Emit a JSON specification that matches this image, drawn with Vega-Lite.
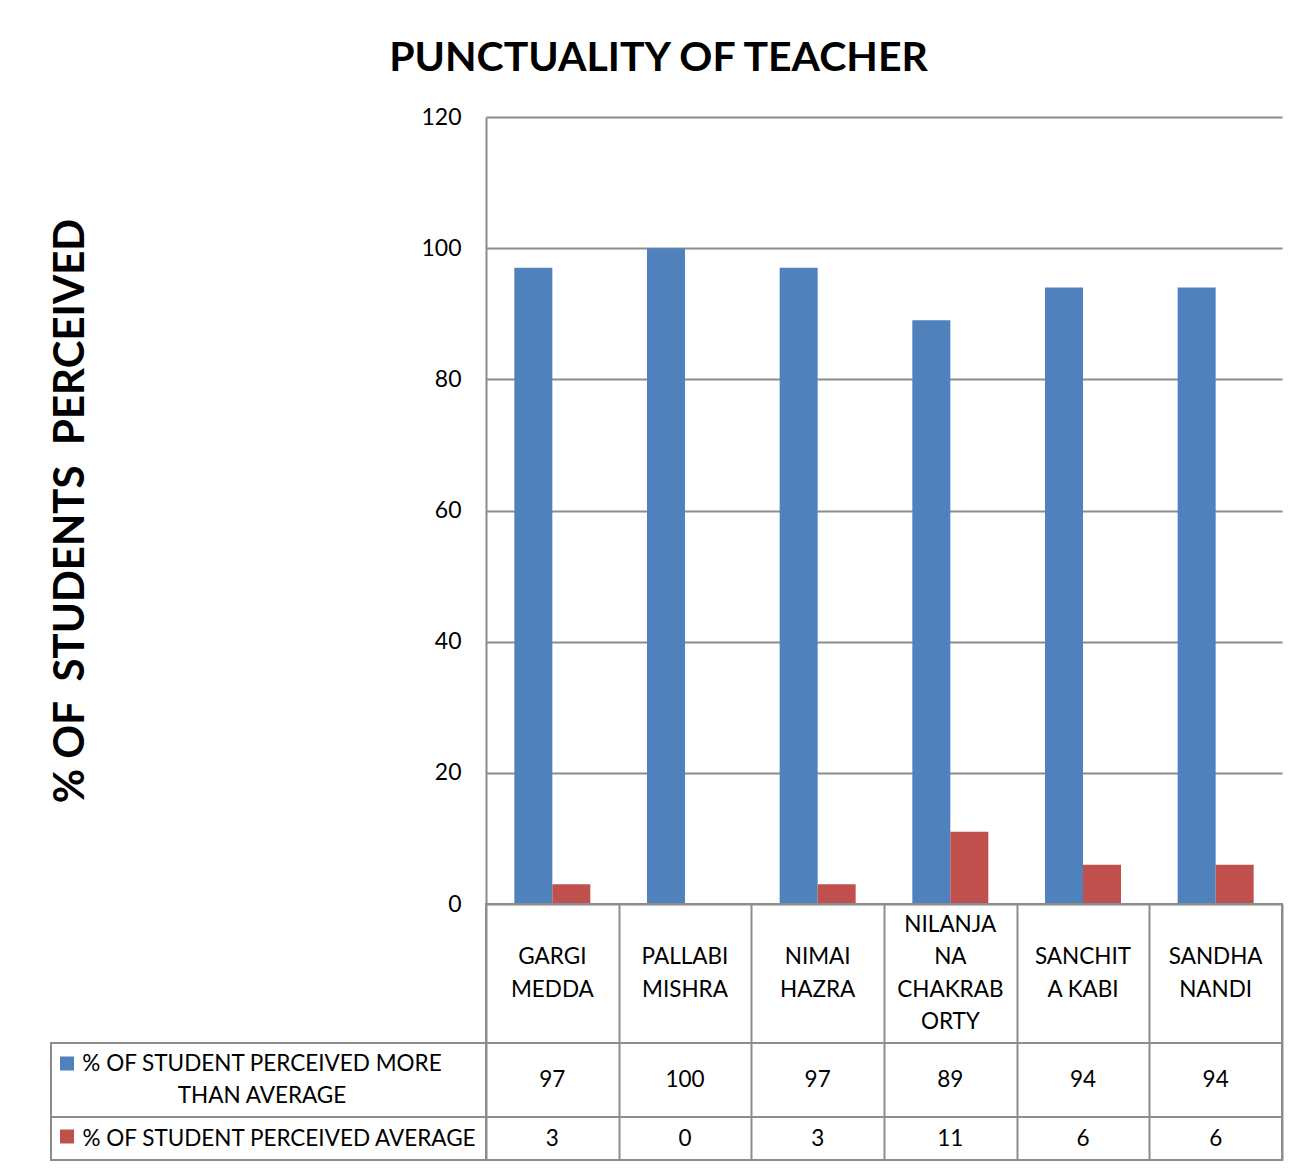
{
  "$schema": "https://vega.github.io/schema/vega-lite/v6.json",
  "padding": {"left": 49, "top": 38, "right": 20, "bottom": 5},
  "background": "white",
  "title": {"text": "PUNCTUALITY OF TEACHER", "font": "Lato", "fontSize": 41, "fontWeight": "bold", "color": "black", "anchor": "middle", "offset": 26, "dx": -8},
  "config": {
    "font": "Lato",
    "view": {"stroke": "#8c8c8c", "strokeWidth": 2}
  },
  "datasets": {
    "cells": [
      {"teacher": "GARGI\nMEDDA", "series": "% OF STUDENT PERCEIVED MORE\nTHAN AVERAGE", "value": 97},
      {"teacher": "GARGI\nMEDDA", "series": "% OF STUDENT PERCEIVED AVERAGE", "value": 3},
      {"teacher": "PALLABI\nMISHRA", "series": "% OF STUDENT PERCEIVED MORE\nTHAN AVERAGE", "value": 100},
      {"teacher": "PALLABI\nMISHRA", "series": "% OF STUDENT PERCEIVED AVERAGE", "value": 0},
      {"teacher": "NIMAI\nHAZRA", "series": "% OF STUDENT PERCEIVED MORE\nTHAN AVERAGE", "value": 97},
      {"teacher": "NIMAI\nHAZRA", "series": "% OF STUDENT PERCEIVED AVERAGE", "value": 3},
      {"teacher": "NILANJA\nNA\nCHAKRAB\nORTY", "series": "% OF STUDENT PERCEIVED MORE\nTHAN AVERAGE", "value": 89},
      {"teacher": "NILANJA\nNA\nCHAKRAB\nORTY", "series": "% OF STUDENT PERCEIVED AVERAGE", "value": 11},
      {"teacher": "SANCHIT\nA KABI", "series": "% OF STUDENT PERCEIVED MORE\nTHAN AVERAGE", "value": 94},
      {"teacher": "SANCHIT\nA KABI", "series": "% OF STUDENT PERCEIVED AVERAGE", "value": 6},
      {"teacher": "SANDHA\nNANDI", "series": "% OF STUDENT PERCEIVED MORE\nTHAN AVERAGE", "value": 94},
      {"teacher": "SANDHA\nNANDI", "series": "% OF STUDENT PERCEIVED AVERAGE", "value": 6}
    ],
    "keys": [
      {"series": "% OF STUDENT PERCEIVED MORE\nTHAN AVERAGE"},
      {"series": "% OF STUDENT PERCEIVED AVERAGE"}
    ]
  },
  "concat": [
    {
      "width": 435, "height": 787,
      "data": {"name": "keys"},
      "view": {"stroke": null},
      "mark": {"type": "text", "text": ""},
      "encoding": {}
    },
    {
      "width": 796,
      "height": 787,
      "data": {"name": "cells"},
      "view": {"stroke": null},
      "mark": {"type": "bar"},
      "encoding": {
        "x": {"field": "teacher", "type": "nominal", "sort": null, "scale": {"type": "band", "paddingInner": 0, "paddingOuter": 0}, "axis": null},
        "xOffset": {"field": "series", "type": "nominal", "sort": null, "scale": {"paddingInner": 0, "paddingOuter": 0.7456}},
        "y": {
          "field": "value", "type": "quantitative",
          "scale": {"domain": [0, 120], "nice": false},
          "axis": {
            "values": [0, 20, 40, 60, 80, 100, 120],
            "title": "% OF\u00a0 STUDENTS\u00a0 PERCEIVED",
            "titleFont": "Lato", "titleFontSize": 42, "titleFontWeight": "bold", "titleColor": "black",
            "titlePadding": 328,
            "labelFont": "Lato", "labelFontSize": 23, "labelColor": "black", "labelPadding": 25,
            "ticks": false,
            "domainColor": "#8c8c8c", "domainWidth": 2,
            "grid": true, "gridColor": "#8c8c8c", "gridWidth": 2, "gridOpacity": 1
          }
        },
        "color": {
          "field": "series", "type": "nominal",
          "scale": {"domain": ["% OF STUDENT PERCEIVED MORE\nTHAN AVERAGE", "% OF STUDENT PERCEIVED AVERAGE"], "range": ["#4F81BD", "#C0504D"]},
          "legend": null
        }
      }
    },
    {
      "width": 435, "height": 139,
      "data": {"name": "keys"},
      "view": {"stroke": null},
      "mark": {"type": "text", "text": ""},
      "encoding": {}
    },
    {
      "width": 796, "height": 139,
      "data": {"name": "cells"},
      "transform": [{"filter": {"field": "series", "equal": "% OF STUDENT PERCEIVED MORE\nTHAN AVERAGE"}}],
      "view": {"stroke": "#8c8c8c", "strokeWidth": 2},
      "encoding": {
        "x": {"field": "teacher", "type": "nominal",
          "scale": {"type": "band", "paddingInner": 0, "paddingOuter": 0,
            "domain": ["GARGI\nMEDDA", "PALLABI\nMISHRA", "NIMAI\nHAZRA", "NILANJA\nNA\nCHAKRAB\nORTY", "SANCHIT\nA KABI", "SANDHA\nNANDI"]},
          "axis": {"title": null, "labels": false, "ticks": false, "domain": false, "grid": true, "tickBand": "extent", "gridColor": "#8c8c8c", "gridWidth": 2, "gridOpacity": 1}},
        "text": {"field": "teacher", "type": "nominal"}
      },
      "layer": [
        {
          "transform": [{"filter": {"not": {"field": "teacher", "equal": "NILANJA\nNA\nCHAKRAB\nORTY"}}}],
          "mark": {"type": "text", "font": "Lato", "fontSize": 22.5, "lineBreak": "\n", "lineHeight": 32.5, "baseline": "middle", "color": "black", "dy": -16.25}
        },
        {
          "transform": [{"filter": {"field": "teacher", "equal": "NILANJA\nNA\nCHAKRAB\nORTY"}}],
          "mark": {"type": "text", "font": "Lato", "fontSize": 22.5, "lineBreak": "\n", "lineHeight": 32.5, "baseline": "middle", "color": "black", "dy": -48.75}
        }
      ]
    },
    {
      "width": 435, "height": 74,
      "data": {"name": "keys"},
      "transform": [{"filter": {"field": "series", "equal": "% OF STUDENT PERCEIVED MORE\nTHAN AVERAGE"}}],
      "view": {"stroke": "#8c8c8c", "strokeWidth": 2},
      "layer": [
        {
          "mark": {"type": "text", "font": "Lato", "fontSize": 22.5, "lineBreak": "\n", "lineHeight": 32.5, "baseline": "middle", "color": "black", "dx": -6.5, "dy": -16.25},
          "encoding": {"text": {"field": "series", "type": "nominal"}}
        },
        {
          "mark": {"type": "square", "size": 196, "opacity": 1, "xOffset": -201.5, "yOffset": -16.5},
          "encoding": {
            "color": {"field": "series", "type": "nominal",
              "scale": {"domain": ["% OF STUDENT PERCEIVED MORE\nTHAN AVERAGE", "% OF STUDENT PERCEIVED AVERAGE"], "range": ["#4F81BD", "#C0504D"]},
              "legend": null}
          }
        }
      ]
    },
    {
      "width": 796, "height": 74,
      "data": {"name": "cells"},
      "transform": [{"filter": {"field": "series", "equal": "% OF STUDENT PERCEIVED MORE\nTHAN AVERAGE"}}],
      "view": {"stroke": "#8c8c8c", "strokeWidth": 2},
      "mark": {"type": "text", "font": "Lato", "fontSize": 22.5, "baseline": "middle", "color": "black"},
      "encoding": {
        "x": {"field": "teacher", "type": "nominal", "sort": null, "scale": {"type": "band", "paddingInner": 0, "paddingOuter": 0},
          "axis": {"title": null, "labels": false, "ticks": false, "domain": false, "grid": true, "tickBand": "extent", "gridColor": "#8c8c8c", "gridWidth": 2, "gridOpacity": 1}},
        "text": {"field": "value", "type": "quantitative"}
      }
    },
    {
      "width": 435, "height": 43,
      "data": {"name": "keys"},
      "transform": [{"filter": {"field": "series", "equal": "% OF STUDENT PERCEIVED AVERAGE"}}],
      "view": {"stroke": "#8c8c8c", "strokeWidth": 2},
      "layer": [
        {
          "mark": {"type": "text", "font": "Lato", "fontSize": 22.5, "baseline": "middle", "color": "black", "dx": 10.5},
          "encoding": {"text": {"field": "series", "type": "nominal"}}
        },
        {
          "mark": {"type": "square", "size": 196, "opacity": 1, "xOffset": -201.5, "yOffset": -2},
          "encoding": {
            "color": {"field": "series", "type": "nominal",
              "scale": {"domain": ["% OF STUDENT PERCEIVED MORE\nTHAN AVERAGE", "% OF STUDENT PERCEIVED AVERAGE"], "range": ["#4F81BD", "#C0504D"]},
              "legend": null}
          }
        }
      ]
    },
    {
      "width": 796, "height": 43,
      "data": {"name": "cells"},
      "transform": [{"filter": {"field": "series", "equal": "% OF STUDENT PERCEIVED AVERAGE"}}],
      "view": {"stroke": "#8c8c8c", "strokeWidth": 2},
      "mark": {"type": "text", "font": "Lato", "fontSize": 22.5, "baseline": "middle", "color": "black"},
      "encoding": {
        "x": {"field": "teacher", "type": "nominal", "sort": null, "scale": {"type": "band", "paddingInner": 0, "paddingOuter": 0},
          "axis": {"title": null, "labels": false, "ticks": false, "domain": false, "grid": true, "tickBand": "extent", "gridColor": "#8c8c8c", "gridWidth": 2, "gridOpacity": 1}},
        "text": {"field": "value", "type": "quantitative"}
      }
    }
  ],
  "columns": 2,
  "align": "each",
  "bounds": "flush",
  "spacing": 0
}
